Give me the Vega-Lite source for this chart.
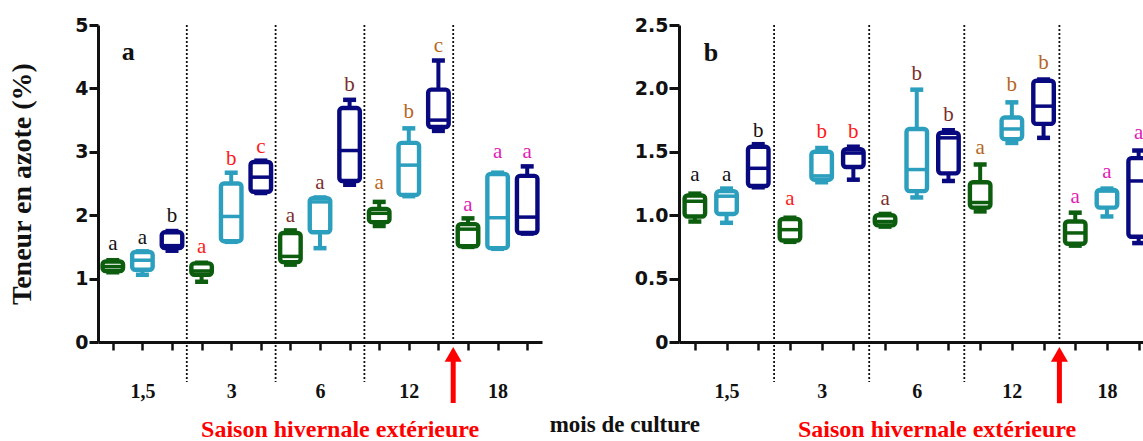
{
  "$schema": "https://vega.github.io/schema/vega-lite/v6.json",
  "autosize": "none",
  "padding": {"left": 98, "top": 25, "right": 1045, "bottom": 416},
  "bounds": "flush",
  "spacing": 137,
  "config": {
    "view": {"stroke": null},
    "tick": {"opacity": 1},
    "axis": {"grid": false, "domainColor": "#111", "tickColor": "#111", "labelColor": "#111", "titleColor": "#111"}
  },
  "datasets": {
    "boxA": [
      {"x": 1, "s": "T1", "min": 1.10, "q1": 1.12, "med": 1.19, "q3": 1.27, "max": 1.29},
      {"x": 2, "s": "T2", "min": 1.06, "q1": 1.14, "med": 1.29, "q3": 1.42, "max": 1.43},
      {"x": 3, "s": "T3", "min": 1.44, "q1": 1.48, "med": 1.52, "q3": 1.73, "max": 1.75},
      {"x": 4, "s": "T1", "min": 0.95, "q1": 1.06, "med": 1.12, "q3": 1.24, "max": 1.25},
      {"x": 5, "s": "T2", "min": 1.58, "q1": 1.59, "med": 1.98, "q3": 2.50, "max": 2.67},
      {"x": 6, "s": "T3", "min": 2.35, "q1": 2.37, "med": 2.60, "q3": 2.84, "max": 2.86},
      {"x": 7, "s": "T1", "min": 1.22, "q1": 1.26, "med": 1.35, "q3": 1.72, "max": 1.76},
      {"x": 8, "s": "T2", "min": 1.48, "q1": 1.73, "med": 2.21, "q3": 2.27, "max": 2.28},
      {"x": 9, "s": "T3", "min": 2.48, "q1": 2.54, "med": 3.02, "q3": 3.69, "max": 3.82},
      {"x": 10, "s": "T1", "min": 1.83, "q1": 1.89, "med": 2.03, "q3": 2.10, "max": 2.21},
      {"x": 11, "s": "T2", "min": 2.30, "q1": 2.32, "med": 2.79, "q3": 3.14, "max": 3.37},
      {"x": 12, "s": "T3", "min": 3.33, "q1": 3.39, "med": 3.50, "q3": 3.98, "max": 4.44},
      {"x": 13, "s": "T1", "min": 1.50, "q1": 1.51, "med": 1.78, "q3": 1.86, "max": 1.95},
      {"x": 14, "s": "T2", "min": 1.47, "q1": 1.48, "med": 1.96, "q3": 2.65, "max": 2.67},
      {"x": 15, "s": "T3", "min": 1.71, "q1": 1.72, "med": 1.97, "q3": 2.62, "max": 2.77}
    ],
    "boxB": [
      {"x": 1, "s": "T1", "min": 0.95, "q1": 0.99, "med": 1.11, "q3": 1.155, "max": 1.17},
      {"x": 2, "s": "T2", "min": 0.94, "q1": 1.01, "med": 1.15, "q3": 1.19, "max": 1.21},
      {"x": 3, "s": "T3", "min": 1.22, "q1": 1.23, "med": 1.37, "q3": 1.54, "max": 1.56},
      {"x": 4, "s": "T1", "min": 0.79, "q1": 0.80, "med": 0.886, "q3": 0.97, "max": 0.98},
      {"x": 5, "s": "T2", "min": 1.26, "q1": 1.28, "med": 1.31, "q3": 1.50, "max": 1.53},
      {"x": 6, "s": "T3", "min": 1.28, "q1": 1.38, "med": 1.49, "q3": 1.52, "max": 1.54},
      {"x": 7, "s": "T1", "min": 0.91, "q1": 0.92, "med": 0.95, "q3": 1.00, "max": 1.01},
      {"x": 8, "s": "T2", "min": 1.14, "q1": 1.19, "med": 1.36, "q3": 1.68, "max": 1.99},
      {"x": 9, "s": "T3", "min": 1.27, "q1": 1.33, "med": 1.61, "q3": 1.65, "max": 1.67},
      {"x": 10, "s": "T1", "min": 1.03, "q1": 1.06, "med": 1.10, "q3": 1.26, "max": 1.40},
      {"x": 11, "s": "T2", "min": 1.57, "q1": 1.60, "med": 1.68, "q3": 1.77, "max": 1.89},
      {"x": 12, "s": "T3", "min": 1.61, "q1": 1.72, "med": 1.86, "q3": 2.06, "max": 2.07},
      {"x": 13, "s": "T1", "min": 0.76, "q1": 0.775, "med": 0.86, "q3": 0.95, "max": 1.02},
      {"x": 14, "s": "T2", "min": 0.99, "q1": 1.06, "med": 1.19, "q3": 1.20, "max": 1.21},
      {"x": 15, "s": "T3", "min": 0.78, "q1": 0.83, "med": 1.27, "q3": 1.45, "max": 1.51}
    ],
    "letA": [
      {"x": 1, "y": 1.45, "t": "a", "mois": "1,5"},
      {"x": 2, "y": 1.545, "t": "a", "mois": "1,5"},
      {"x": 3, "y": 1.90, "t": "b", "mois": "1,5"},
      {"x": 4, "y": 1.40, "t": "a", "mois": "3"},
      {"x": 5, "y": 2.79, "t": "b", "mois": "3"},
      {"x": 6, "y": 2.98, "t": "c", "mois": "3"},
      {"x": 7, "y": 1.90, "t": "a", "mois": "6"},
      {"x": 8, "y": 2.42, "t": "a", "mois": "6"},
      {"x": 9, "y": 3.96, "t": "b", "mois": "6"},
      {"x": 10, "y": 2.42, "t": "a", "mois": "12"},
      {"x": 11, "y": 3.53, "t": "b", "mois": "12"},
      {"x": 12, "y": 4.58, "t": "c", "mois": "12"},
      {"x": 13, "y": 2.07, "t": "a", "mois": "18"},
      {"x": 14, "y": 2.91, "t": "a", "mois": "18"},
      {"x": 15, "y": 2.91, "t": "a", "mois": "18"}
    ],
    "letB": [
      {"x": 1, "y": 1.268, "t": "a", "mois": "1,5"},
      {"x": 2, "y": 1.268, "t": "a", "mois": "1,5"},
      {"x": 3, "y": 1.62, "t": "b", "mois": "1,5"},
      {"x": 4, "y": 1.084, "t": "a", "mois": "3"},
      {"x": 5, "y": 1.606, "t": "b", "mois": "3"},
      {"x": 6, "y": 1.606, "t": "b", "mois": "3"},
      {"x": 7, "y": 1.084, "t": "a", "mois": "6"},
      {"x": 8, "y": 2.07, "t": "b", "mois": "6"},
      {"x": 9, "y": 1.743, "t": "b", "mois": "6"},
      {"x": 10, "y": 1.479, "t": "a", "mois": "12"},
      {"x": 11, "y": 1.98, "t": "b", "mois": "12"},
      {"x": 12, "y": 2.15, "t": "b", "mois": "12"},
      {"x": 13, "y": 1.097, "t": "a", "mois": "18"},
      {"x": 14, "y": 1.295, "t": "a", "mois": "18"},
      {"x": 15, "y": 1.598, "t": "a", "mois": "18"}
    ],
    "sepA": [
      {"x": 3.5, "top": 5, "bot": -0.63},
      {"x": 6.5, "top": 5, "bot": -0.63},
      {"x": 9.5, "top": 5, "bot": -0.63},
      {"x": 12.5, "top": 5, "bot": 0}
    ],
    "sepB": [
      {"x": 3.5, "top": 2.5, "bot": -0.316},
      {"x": 6.5, "top": 2.5, "bot": -0.316},
      {"x": 9.5, "top": 2.5, "bot": -0.316},
      {"x": 12.5, "top": 2.5, "bot": 0}
    ],
    "arrowA": [{"x": 12.5, "y1": -0.962, "y2": -0.25, "tip": -0.196}],
    "arrowB": [{"x": 12.5, "y1": -0.483, "y2": -0.127, "tip": -0.098}],
    "noteA": [{"x": 8.68, "y": -1.498, "t": "Saison hivernale extérieure"}],
    "noteB": [{"x": 8.64, "y": -0.752, "t": "Saison hivernale extérieure"}],
    "xlabA": [{"x": 18.3, "y": -1.42, "t": "mois de culture"}],
    "panA": [{"x": 1.52, "y": 4.45, "t": "a"}],
    "panB": [{"x": 1.51, "y": 2.218, "t": "b"}]
  },
  "hconcat": [
    {
      "width": 444,
      "height": 317,
      "encoding": {
        "x": {"field": "x", "type": "quantitative", "scale": {"domain": [0.5, 15.5], "nice": false, "zero": false, "padding": 0},
          "axis": {"values": [1,2,3,4,5,6,7,8,9,10,11,12,13,14,15], "tickSize": 8, "tickWidth": 2.5, "domainWidth": 3,
            "labelExpr": "datum.value==2?'1,5':datum.value==5?'3':datum.value==8?'6':datum.value==11?'12':datum.value==14?'18':''",
            "labelFont": "Liberation Serif", "labelFontWeight": "bold", "labelFontSize": 20, "labelPadding": 31, "labelOverlap": false, "labelFlush": false, "title": null}}
      },
      "layer": [
        {
          "data": {"name": "sepA"},
          "mark": {"type": "rule", "strokeDash": [2, 2], "strokeWidth": 1.8, "color": "#111"},
          "encoding": {
            "y": {"field": "top", "type": "quantitative", "scale": {"domain": [0, 5], "nice": false, "zero": false, "padding": 0},
              "axis": {"values": [0,1,2,3,4,5], "format": "d", "labelExpr": "format(datum.value,'d')", "tickSize": 9, "tickWidth": 3, "domainWidth": 3, "labelFont": "DejaVu Sans", "labelFontWeight": "bold", "labelFontSize": 19, "labelPadding": 1,
                "title": "Teneur en azote (%)", "titleFont": "Liberation Serif", "titleFontWeight": "bold", "titleFontSize": 28, "titlePadding": 38}},
            "y2": {"field": "bot"}
          }
        },
        {
          "data": {"name": "boxA"},
          "mark": {"type": "rule", "strokeWidth": 4},
          "encoding": {
            "y": {"field": "min", "type": "quantitative", "axis": {"values": [0,1,2,3,4,5], "format": "d", "labelExpr": "format(datum.value,'d')", "tickSize": 9, "tickWidth": 3, "domainWidth": 3, "labelFont": "DejaVu Sans", "labelFontWeight": "bold", "labelFontSize": 19, "labelPadding": 1, "title": "Teneur en azote (%)", "titleFont": "Liberation Serif", "titleFontWeight": "bold", "titleFontSize": 28, "titlePadding": 38}},
            "y2": {"field": "max"},
            "color": {"field": "s", "type": "nominal", "scale": {"domain": ["T1", "T2", "T3"], "range": ["#0c5e0e", "#2b9fbd", "#08087f"]}, "legend": null}
          }
        },
        {
          "data": {"name": "boxA"},
          "mark": {"type": "tick", "orient": "horizontal", "size": 13, "thickness": 4.5, "opacity": 1},
          "encoding": {
            "y": {"field": "min", "type": "quantitative", "axis": {"values": [0,1,2,3,4,5], "format": "d", "labelExpr": "format(datum.value,'d')", "tickSize": 9, "tickWidth": 3, "domainWidth": 3, "labelFont": "DejaVu Sans", "labelFontWeight": "bold", "labelFontSize": 19, "labelPadding": 1, "title": "Teneur en azote (%)", "titleFont": "Liberation Serif", "titleFontWeight": "bold", "titleFontSize": 28, "titlePadding": 38}},
            "color": {"field": "s", "type": "nominal", "legend": null}
          }
        },
        {
          "data": {"name": "boxA"},
          "mark": {"type": "tick", "orient": "horizontal", "size": 13, "thickness": 4.5, "opacity": 1},
          "encoding": {
            "y": {"field": "max", "type": "quantitative", "axis": {"values": [0,1,2,3,4,5], "format": "d", "labelExpr": "format(datum.value,'d')", "tickSize": 9, "tickWidth": 3, "domainWidth": 3, "labelFont": "DejaVu Sans", "labelFontWeight": "bold", "labelFontSize": 19, "labelPadding": 1, "title": "Teneur en azote (%)", "titleFont": "Liberation Serif", "titleFontWeight": "bold", "titleFontSize": 28, "titlePadding": 38}},
            "color": {"field": "s", "type": "nominal", "legend": null}
          }
        },
        {
          "data": {"name": "boxA"},
          "mark": {"type": "bar", "width": 20.5, "fill": "white", "strokeWidth": 4.4, "cornerRadius": 3, "strokeJoin": "round"},
          "encoding": {
            "y": {"field": "q1", "type": "quantitative", "axis": {"values": [0,1,2,3,4,5], "format": "d", "labelExpr": "format(datum.value,'d')", "tickSize": 9, "tickWidth": 3, "domainWidth": 3, "labelFont": "DejaVu Sans", "labelFontWeight": "bold", "labelFontSize": 19, "labelPadding": 1, "title": "Teneur en azote (%)", "titleFont": "Liberation Serif", "titleFontWeight": "bold", "titleFontSize": 28, "titlePadding": 38}},
            "y2": {"field": "q3"},
            "stroke": {"field": "s", "type": "nominal", "scale": {"domain": ["T1", "T2", "T3"], "range": ["#0c5e0e", "#2b9fbd", "#08087f"]}, "legend": null}
          }
        },
        {
          "data": {"name": "boxA"},
          "mark": {"type": "tick", "orient": "horizontal", "size": 20, "thickness": 3.5, "opacity": 1},
          "encoding": {
            "y": {"field": "med", "type": "quantitative", "axis": {"values": [0,1,2,3,4,5], "format": "d", "labelExpr": "format(datum.value,'d')", "tickSize": 9, "tickWidth": 3, "domainWidth": 3, "labelFont": "DejaVu Sans", "labelFontWeight": "bold", "labelFontSize": 19, "labelPadding": 1, "title": "Teneur en azote (%)", "titleFont": "Liberation Serif", "titleFontWeight": "bold", "titleFontSize": 28, "titlePadding": 38}},
            "color": {"field": "s", "type": "nominal", "legend": null}
          }
        },
        {
          "data": {"name": "letA"},
          "mark": {"type": "text", "font": "Liberation Serif", "fontSize": 21, "baseline": "alphabetic", "align": "center"},
          "encoding": {
            "y": {"field": "y", "type": "quantitative", "axis": {"values": [0,1,2,3,4,5], "format": "d", "labelExpr": "format(datum.value,'d')", "tickSize": 9, "tickWidth": 3, "domainWidth": 3, "labelFont": "DejaVu Sans", "labelFontWeight": "bold", "labelFontSize": 19, "labelPadding": 1, "title": "Teneur en azote (%)", "titleFont": "Liberation Serif", "titleFontWeight": "bold", "titleFontSize": 28, "titlePadding": 38}},
            "text": {"field": "t"},
            "fill": {"field": "mois", "type": "nominal", "scale": {"domain": ["1,5", "3", "6", "12", "18"], "range": ["#111111", "#ff1a1a", "#7b2d2d", "#b5661f", "#e01cb4"]}, "legend": null}
          }
        },
        {
          "data": {"name": "arrowA"},
          "mark": {"type": "rule", "strokeWidth": 5, "color": "#ff0000"},
          "encoding": {
            "y": {"field": "y1", "type": "quantitative", "axis": {"values": [0,1,2,3,4,5], "format": "d", "labelExpr": "format(datum.value,'d')", "tickSize": 9, "tickWidth": 3, "domainWidth": 3, "labelFont": "DejaVu Sans", "labelFontWeight": "bold", "labelFontSize": 19, "labelPadding": 1, "title": "Teneur en azote (%)", "titleFont": "Liberation Serif", "titleFontWeight": "bold", "titleFontSize": 28, "titlePadding": 38}},
            "y2": {"field": "y2"}
          }
        },
        {
          "data": {"name": "arrowA"},
          "mark": {"type": "point", "shape": "triangle-up", "size": 290, "filled": true, "opacity": 1, "color": "#ff0000"},
          "encoding": {
            "y": {"field": "tip", "type": "quantitative", "axis": {"values": [0,1,2,3,4,5], "format": "d", "labelExpr": "format(datum.value,'d')", "tickSize": 9, "tickWidth": 3, "domainWidth": 3, "labelFont": "DejaVu Sans", "labelFontWeight": "bold", "labelFontSize": 19, "labelPadding": 1, "title": "Teneur en azote (%)", "titleFont": "Liberation Serif", "titleFontWeight": "bold", "titleFontSize": 28, "titlePadding": 38}}
          }
        },
        {
          "data": {"name": "noteA"},
          "mark": {"type": "text", "font": "Liberation Serif", "fontWeight": "bold", "fontSize": 24, "color": "#ff0000", "baseline": "alphabetic", "align": "center"},
          "encoding": {
            "y": {"field": "y", "type": "quantitative", "axis": {"values": [0,1,2,3,4,5], "format": "d", "labelExpr": "format(datum.value,'d')", "tickSize": 9, "tickWidth": 3, "domainWidth": 3, "labelFont": "DejaVu Sans", "labelFontWeight": "bold", "labelFontSize": 19, "labelPadding": 1, "title": "Teneur en azote (%)", "titleFont": "Liberation Serif", "titleFontWeight": "bold", "titleFontSize": 28, "titlePadding": 38}},
            "text": {"field": "t"}
          }
        },
        {
          "data": {"name": "xlabA"},
          "mark": {"type": "text", "font": "Liberation Serif", "fontWeight": "bold", "fontSize": 23, "color": "#111", "baseline": "alphabetic", "align": "center"},
          "encoding": {
            "y": {"field": "y", "type": "quantitative", "axis": {"values": [0,1,2,3,4,5], "format": "d", "labelExpr": "format(datum.value,'d')", "tickSize": 9, "tickWidth": 3, "domainWidth": 3, "labelFont": "DejaVu Sans", "labelFontWeight": "bold", "labelFontSize": 19, "labelPadding": 1, "title": "Teneur en azote (%)", "titleFont": "Liberation Serif", "titleFontWeight": "bold", "titleFontSize": 28, "titlePadding": 38}},
            "text": {"field": "t"}
          }
        },
        {
          "data": {"name": "panA"},
          "mark": {"type": "text", "font": "Liberation Serif", "fontWeight": "bold", "fontSize": 26, "color": "#111", "baseline": "alphabetic", "align": "center"},
          "encoding": {
            "y": {"field": "y", "type": "quantitative", "axis": {"values": [0,1,2,3,4,5], "format": "d", "labelExpr": "format(datum.value,'d')", "tickSize": 9, "tickWidth": 3, "domainWidth": 3, "labelFont": "DejaVu Sans", "labelFontWeight": "bold", "labelFontSize": 19, "labelPadding": 1, "title": "Teneur en azote (%)", "titleFont": "Liberation Serif", "titleFontWeight": "bold", "titleFontSize": 28, "titlePadding": 38}},
            "text": {"field": "t"}
          }
        }
      ]
    },
    {
      "width": 464,
      "height": 317,
      "encoding": {
        "x": {"field": "x", "type": "quantitative", "scale": {"domain": [0.5, 15.137], "nice": false, "zero": false, "padding": 0},
          "axis": {"values": [1,2,3,4,5,6,7,8,9,10,11,12,13,14,15], "tickSize": 8, "tickWidth": 2.5, "domainWidth": 3,
            "labelExpr": "datum.value==2?'1,5':datum.value==5?'3':datum.value==8?'6':datum.value==11?'12':datum.value==14?'18':''",
            "labelFont": "Liberation Serif", "labelFontWeight": "bold", "labelFontSize": 20, "labelPadding": 31, "labelOverlap": false, "labelFlush": false, "title": null}}
      },
      "layer": [
        {
          "data": {"name": "sepB"},
          "mark": {"type": "rule", "strokeDash": [2, 2], "strokeWidth": 1.8, "color": "#111"},
          "encoding": {
            "y": {"field": "top", "type": "quantitative", "scale": {"domain": [0, 2.5], "nice": false, "zero": false, "padding": 0},
              "axis": {"values": [0,0.5,1,1.5,2,2.5], "labelExpr": "datum.value==0?'0':format(datum.value,'.1f')", "tickSize": 10, "tickWidth": 3, "domainWidth": 3, "labelFont": "DejaVu Sans", "labelFontWeight": "bold", "labelFontSize": 19, "labelPadding": 1, "title": null}},
            "y2": {"field": "bot"}
          }
        },
        {
          "data": {"name": "boxB"},
          "mark": {"type": "rule", "strokeWidth": 4},
          "encoding": {
            "y": {"field": "min", "type": "quantitative", "axis": {"values": [0,0.5,1,1.5,2,2.5], "labelExpr": "datum.value==0?'0':format(datum.value,'.1f')", "tickSize": 10, "tickWidth": 3, "domainWidth": 3, "labelFont": "DejaVu Sans", "labelFontWeight": "bold", "labelFontSize": 19, "labelPadding": 1, "title": null}},
            "y2": {"field": "max"},
            "color": {"field": "s", "type": "nominal", "scale": {"domain": ["T1", "T2", "T3"], "range": ["#0c5e0e", "#2b9fbd", "#08087f"]}, "legend": null}
          }
        },
        {
          "data": {"name": "boxB"},
          "mark": {"type": "tick", "orient": "horizontal", "size": 13, "thickness": 4.5, "opacity": 1},
          "encoding": {
            "y": {"field": "min", "type": "quantitative", "axis": {"values": [0,0.5,1,1.5,2,2.5], "labelExpr": "datum.value==0?'0':format(datum.value,'.1f')", "tickSize": 10, "tickWidth": 3, "domainWidth": 3, "labelFont": "DejaVu Sans", "labelFontWeight": "bold", "labelFontSize": 19, "labelPadding": 1, "title": null}},
            "color": {"field": "s", "type": "nominal", "legend": null}
          }
        },
        {
          "data": {"name": "boxB"},
          "mark": {"type": "tick", "orient": "horizontal", "size": 13, "thickness": 4.5, "opacity": 1},
          "encoding": {
            "y": {"field": "max", "type": "quantitative", "axis": {"values": [0,0.5,1,1.5,2,2.5], "labelExpr": "datum.value==0?'0':format(datum.value,'.1f')", "tickSize": 10, "tickWidth": 3, "domainWidth": 3, "labelFont": "DejaVu Sans", "labelFontWeight": "bold", "labelFontSize": 19, "labelPadding": 1, "title": null}},
            "color": {"field": "s", "type": "nominal", "legend": null}
          }
        },
        {
          "data": {"name": "boxB"},
          "mark": {"type": "bar", "width": 20.5, "fill": "white", "strokeWidth": 4.4, "cornerRadius": 3, "strokeJoin": "round"},
          "encoding": {
            "y": {"field": "q1", "type": "quantitative", "axis": {"values": [0,0.5,1,1.5,2,2.5], "labelExpr": "datum.value==0?'0':format(datum.value,'.1f')", "tickSize": 10, "tickWidth": 3, "domainWidth": 3, "labelFont": "DejaVu Sans", "labelFontWeight": "bold", "labelFontSize": 19, "labelPadding": 1, "title": null}},
            "y2": {"field": "q3"},
            "stroke": {"field": "s", "type": "nominal", "scale": {"domain": ["T1", "T2", "T3"], "range": ["#0c5e0e", "#2b9fbd", "#08087f"]}, "legend": null}
          }
        },
        {
          "data": {"name": "boxB"},
          "mark": {"type": "tick", "orient": "horizontal", "size": 20, "thickness": 3.5, "opacity": 1},
          "encoding": {
            "y": {"field": "med", "type": "quantitative", "axis": {"values": [0,0.5,1,1.5,2,2.5], "labelExpr": "datum.value==0?'0':format(datum.value,'.1f')", "tickSize": 10, "tickWidth": 3, "domainWidth": 3, "labelFont": "DejaVu Sans", "labelFontWeight": "bold", "labelFontSize": 19, "labelPadding": 1, "title": null}},
            "color": {"field": "s", "type": "nominal", "legend": null}
          }
        },
        {
          "data": {"name": "letB"},
          "mark": {"type": "text", "font": "Liberation Serif", "fontSize": 21, "baseline": "alphabetic", "align": "center"},
          "encoding": {
            "y": {"field": "y", "type": "quantitative", "axis": {"values": [0,0.5,1,1.5,2,2.5], "labelExpr": "datum.value==0?'0':format(datum.value,'.1f')", "tickSize": 10, "tickWidth": 3, "domainWidth": 3, "labelFont": "DejaVu Sans", "labelFontWeight": "bold", "labelFontSize": 19, "labelPadding": 1, "title": null}},
            "text": {"field": "t"},
            "fill": {"field": "mois", "type": "nominal", "scale": {"domain": ["1,5", "3", "6", "12", "18"], "range": ["#111111", "#ff1a1a", "#7b2d2d", "#b5661f", "#e01cb4"]}, "legend": null}
          }
        },
        {
          "data": {"name": "arrowB"},
          "mark": {"type": "rule", "strokeWidth": 5, "color": "#ff0000"},
          "encoding": {
            "y": {"field": "y1", "type": "quantitative", "axis": {"values": [0,0.5,1,1.5,2,2.5], "labelExpr": "datum.value==0?'0':format(datum.value,'.1f')", "tickSize": 10, "tickWidth": 3, "domainWidth": 3, "labelFont": "DejaVu Sans", "labelFontWeight": "bold", "labelFontSize": 19, "labelPadding": 1, "title": null}},
            "y2": {"field": "y2"}
          }
        },
        {
          "data": {"name": "arrowB"},
          "mark": {"type": "point", "shape": "triangle-up", "size": 290, "filled": true, "opacity": 1, "color": "#ff0000"},
          "encoding": {
            "y": {"field": "tip", "type": "quantitative", "axis": {"values": [0,0.5,1,1.5,2,2.5], "labelExpr": "datum.value==0?'0':format(datum.value,'.1f')", "tickSize": 10, "tickWidth": 3, "domainWidth": 3, "labelFont": "DejaVu Sans", "labelFontWeight": "bold", "labelFontSize": 19, "labelPadding": 1, "title": null}}
          }
        },
        {
          "data": {"name": "noteB"},
          "mark": {"type": "text", "font": "Liberation Serif", "fontWeight": "bold", "fontSize": 24, "color": "#ff0000", "baseline": "alphabetic", "align": "center"},
          "encoding": {
            "y": {"field": "y", "type": "quantitative", "axis": {"values": [0,0.5,1,1.5,2,2.5], "labelExpr": "datum.value==0?'0':format(datum.value,'.1f')", "tickSize": 10, "tickWidth": 3, "domainWidth": 3, "labelFont": "DejaVu Sans", "labelFontWeight": "bold", "labelFontSize": 19, "labelPadding": 1, "title": null}},
            "text": {"field": "t"}
          }
        },
        {
          "data": {"name": "panB"},
          "mark": {"type": "text", "font": "Liberation Serif", "fontWeight": "bold", "fontSize": 26, "color": "#111", "baseline": "alphabetic", "align": "center"},
          "encoding": {
            "y": {"field": "y", "type": "quantitative", "axis": {"values": [0,0.5,1,1.5,2,2.5], "labelExpr": "datum.value==0?'0':format(datum.value,'.1f')", "tickSize": 10, "tickWidth": 3, "domainWidth": 3, "labelFont": "DejaVu Sans", "labelFontWeight": "bold", "labelFontSize": 19, "labelPadding": 1, "title": null}},
            "text": {"field": "t"}
          }
        }
      ]
    }
  ]
}
